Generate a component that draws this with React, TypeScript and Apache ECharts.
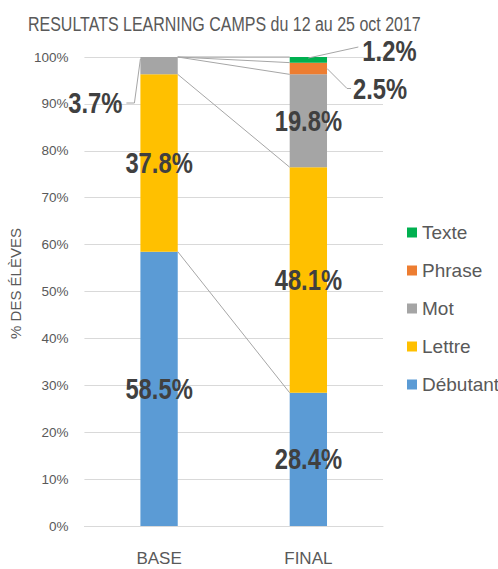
import React, { useEffect, useRef } from "react";
import * as echarts from "echarts";

const categories = ["BASE", "FINAL"];
const seriesNames = ["Débutant", "Lettre", "Mot", "Phrase", "Texte"];
const baseValues = [58.5, 37.8, 3.7, 0, 0];
const finalValues = [28.4, 48.1, 19.8, 2.5, 1.2];
const legendOrder = ["Texte", "Phrase", "Mot", "Lettre", "Débutant"];
const yTickValues = [0, 10, 20, 30, 40, 50, 60, 70, 80, 90, 100];
const titleText = "RESULTATS LEARNING CAMPS du 12 au 25 oct 2017";
const yAxisTitle = "% DES ÉLÈVES";

const colors = ["#5B9BD5", "#FFC000", "#A5A5A5", "#ED7D31", "#00B050"];

const SANS = "'Liberation Sans', Arial, sans-serif";
const LABEL_COLOR = "#404040";
const TEXT_COLOR = "#595959";
const SQUEEZE = 0.82;

function cumulative(arr: number[]) {
  const out: number[] = [];
  let s = 0;
  for (const v of arr) {
    s += v;
    out.push(Math.round(s * 10) / 10);
  }
  return out;
}

const fmt = (v: number) => `${v.toFixed(1)}%`;

export default function App() {
  const ref = useRef<HTMLDivElement>(null);

  useEffect(() => {
    if (!ref.current) return;
    const chart = echarts.init(ref.current, undefined, { renderer: "svg" });

    const valuesByCat = [baseValues, finalValues];
    const cumBase = cumulative(baseValues);
    const cumFinal = cumulative(finalValues);

    const lineData = seriesNames.map((_, i) => [0, cumBase[i], cumFinal[i]]);

    // label data: [cat, low, high, value, seriesIndex]
    const labelData: number[][] = [];
    valuesByCat.forEach((vals, c) => {
      const cum = c === 0 ? cumBase : cumFinal;
      vals.forEach((v, s) => {
        if (v > 0) labelData.push([c, Math.round((cum[s] - v) * 10) / 10, cum[s], v, s]);
      });
    });

    const bars = seriesNames.map((name, i) => ({
      name,
      type: "bar",
      stack: "total",
      barWidth: "25%",
      itemStyle: { color: colors[i] },
      data: [baseValues[i], finalValues[i]],
      z: 2,
    }));

    const labelText = (text: string, x: number, y: number, align: string) => ({
      type: "text",
      x,
      y,
      scaleX: SQUEEZE,
      style: {
        text,
        fontFamily: SANS,
        fontWeight: "bold",
        fontSize: 29,
        fill: LABEL_COLOR,
        align,
        verticalAlign: "middle",
      },
    });

    const option: any = {
      animation: false,
      graphic: [
        {
          type: "text",
          x: 28,
          y: 24,
          scaleX: SQUEEZE,
          style: {
            text: titleText,
            fontFamily: SANS,
            fontSize: 19.5,
            fill: TEXT_COLOR,
            align: "left",
            verticalAlign: "middle",
          },
        },
      ],
      legend: {
        data: legendOrder,
        orient: "vertical",
        left: 402,
        top: 218,
        itemWidth: 10,
        itemHeight: 10,
        itemGap: 19,
        icon: "rect",
        textStyle: {
          fontFamily: SANS,
          fontSize: 19,
          lineHeight: 19,
          color: TEXT_COLOR,
        },
      },
      grid: { left: 82, right: 115, top: 57, bottom: 43 },
      xAxis: {
        type: "category",
        data: categories,
        axisTick: { show: false },
        axisLine: { show: true, lineStyle: { color: "#D9D9D9", width: 1 } },
        axisLabel: {
          fontFamily: SANS,
          fontSize: 17,
          color: TEXT_COLOR,
          margin: 24,
        },
      },
      yAxis: {
        type: "value",
        min: yTickValues[0],
        max: yTickValues[yTickValues.length - 1],
        interval: yTickValues[1] - yTickValues[0],
        name: yAxisTitle,
        nameLocation: "middle",
        nameGap: 55,
        nameTextStyle: { fontFamily: SANS, fontSize: 15, color: TEXT_COLOR, padding: [0, 0, 0, 16] },
        axisLine: { show: false },
        axisTick: { show: false },
        splitLine: { lineStyle: { color: "#D9D9D9", width: 1 } },
        axisLabel: {
          formatter: "{value}%",
          fontFamily: SANS,
          fontSize: 13.5,
          color: TEXT_COLOR,
          margin: 16,
        },
      },
      series: [
        ...bars,
        {
          name: "seriesLines",
          type: "custom",
          data: lineData,
          z: 3,
          silent: true,
          renderItem: (_params: any, api: any) => {
            const p0 = api.coord([0, api.value(1)]);
            const p1 = api.coord([1, api.value(2)]);
            const half = api.size([1, 0])[0] * 0.125;
            return {
              type: "line",
              shape: { x1: p0[0] + half, y1: p0[1], x2: p1[0] - half, y2: p1[1] },
              style: { stroke: "#A6A6A6", lineWidth: 1 },
            };
          },
        },
        {
          name: "dataLabels",
          type: "custom",
          data: labelData,
          z: 4,
          silent: true,
          renderItem: (_params: any, api: any) => {
            const cat = api.value(0);
            const low = api.value(1);
            const high = api.value(2);
            const v = api.value(3);
            const s = api.value(4);
            const half = api.size([1, 0])[0] * 0.125;
            const pTop = api.coord([cat, high]);
            const pLow = api.coord([cat, low]);
            const midY = (pTop[1] + pLow[1]) / 2;
            const cx = pTop[0];
            const text = fmt(v);
            if (v >= 5) {
              return labelText(text, cx, midY, "center");
            }
            let pts: number[][];
            let t: any;
            if (cat === 0) {
              const ax = cx - half;
              const ay = pTop[1];
              pts = [[ax, ay + 2], [ax - 6, ay + 46], [ax - 14, ay + 46]];
              t = labelText(text, ax - 18, ay + 46, "right");
            } else if (s === seriesNames.length - 1) {
              const ay = pTop[1];
              pts = [[cx, ay + 1], [cx + 50, ay - 10]];
              t = labelText(text, cx + 54, ay - 6, "left");
            } else {
              const ax = cx + half;
              pts = [[ax, midY], [ax + 20, midY + 20], [ax + 24, midY + 20]];
              t = labelText(text, ax + 26, midY + 21, "left");
            }
            return {
              type: "group",
              children: [
                {
                  type: "polyline",
                  shape: { points: pts },
                  style: { stroke: "#A6A6A6", lineWidth: 1, fill: "none" },
                },
                t,
              ],
            };
          },
        },
      ],
    };

    chart.setOption(option);
    return () => chart.dispose();
  }, []);

  return (
    <div
      ref={ref}
      style={{ position: "fixed", left: 0, top: 0, width: 498, height: 569, background: "#fff" }}
    />
  );
}
